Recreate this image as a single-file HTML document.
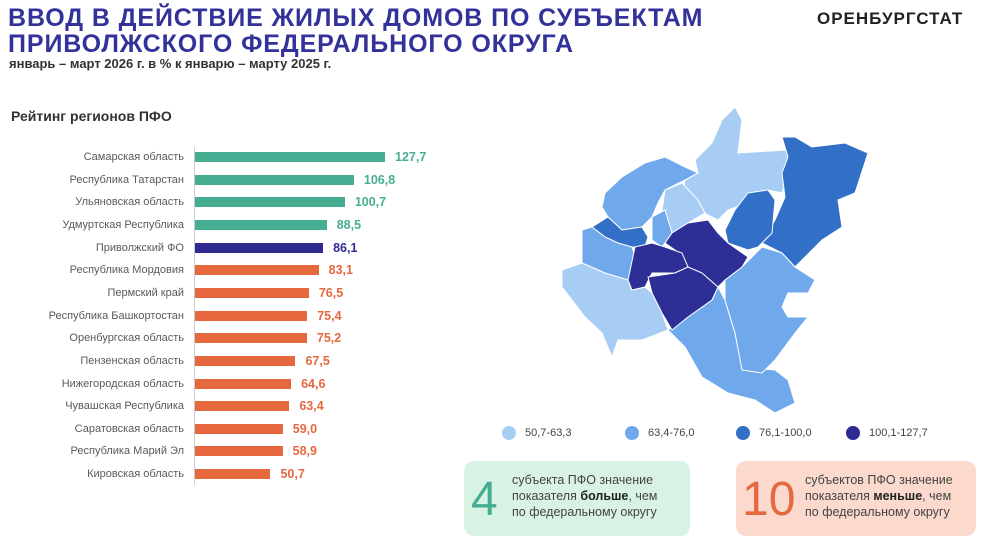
<!DOCTYPE html>
<html><head><meta charset="utf-8"><style>
*{margin:0;padding:0;box-sizing:border-box}
body{width:1000px;height:538px;background:#fff;position:relative;overflow:hidden;font-family:"Liberation Sans",sans-serif}
.a{position:absolute;white-space:nowrap}
.t{left:8px;font-size:25px;font-weight:bold;color:#33329a;letter-spacing:0.9px;line-height:25px}
.lab{position:absolute;right:816px;font-size:11px;color:#5a5a5a;line-height:12px}
.bar{position:absolute;left:195px;height:10px}
.val{position:absolute;font-size:12.5px;font-weight:bold;line-height:12px}
.box{position:absolute;border-radius:10px}
.big{position:absolute;font-size:48px;line-height:48px}
.bt{position:absolute;font-size:12.5px;color:#444;line-height:16px}
.lg{position:absolute;font-size:11px;color:#444}
.dot{position:absolute;width:14px;height:14px;border-radius:50%}
</style></head><body>
<div class="a t" style="top:6px">ВВОД В ДЕЙСТВИЕ ЖИЛЫХ ДОМОВ ПО СУБЪЕКТАМ</div>
<div class="a t" style="top:32px">ПРИВОЛЖСКОГО ФЕДЕРАЛЬНОГО ОКРУГА</div>
<div class="a" style="left:9px;top:56px;font-size:13px;font-weight:bold;color:#333">январь – март 2026 г. в % к январю – марту 2025 г.</div>
<div class="a" style="left:817px;top:9px;font-size:17px;font-weight:bold;color:#222;letter-spacing:1px">ОРЕНБУРГСТАТ</div>
<div class="a" style="left:11px;top:108px;font-size:14px;font-weight:bold;color:#333">Рейтинг регионов ПФО</div>
<div style="position:absolute;left:194px;top:147px;width:1px;height:338px;background:#ccc"></div>
<div id="bars"></div>
<script>
var d=[["Самарская область",127.7,"#45ae92"],["Республика Татарстан",106.8,"#45ae92"],["Ульяновская область",100.7,"#45ae92"],["Удмуртская Республика",88.5,"#45ae92"],["Приволжский ФО",86.1,"#2e2a8f"],["Республика Мордовия",83.1,"#e5683f"],["Пермский край",76.5,"#e5683f"],["Республика Башкортостан",75.4,"#e5683f"],["Оренбургская область",75.2,"#e5683f"],["Пензенская область",67.5,"#e5683f"],["Нижегородская область",64.6,"#e5683f"],["Чувашская Республика",63.4,"#e5683f"],["Саратовская область",59.0,"#e5683f"],["Республика Марий Эл",58.9,"#e5683f"],["Кировская область",50.7,"#e5683f"]];
var h="";d.forEach(function(r,i){var y=157+i*22.65;var w=r[1]*1.488;
h+='<div class="lab" style="top:'+(y-6)+'px">'+r[0]+'</div>';
h+='<div class="bar" style="top:'+(y-5)+'px;width:'+w+'px;background:'+r[2]+'"></div>';
h+='<div class="val" style="top:'+(y-6)+'px;left:'+(195+w+10)+'px;color:'+r[2]+'">'+r[1].toFixed(1).replace(".",",")+'</div>';});
document.getElementById("bars").innerHTML=h;
</script>
<svg style="position:absolute;left:0;top:0" width="1000" height="538" stroke="#fff" stroke-width="1">
<polygon fill="#a8cdf5" points="722,120 735,107 742,120 738,153 788,150 792,163 782,193 768,190 755,200 728,210 718,220 698,210 682,200 685,180 698,173 695,160 712,143"/>
<polygon fill="#3170c6" points="782,137 795,137 812,147 845,143 868,153 855,193 838,200 842,227 822,240 795,267 782,253 762,243 775,220 785,197 782,173 788,157"/>
<polygon fill="#3170c6" points="748,193 768,190 775,200 772,233 758,247 748,250 728,243 725,230 735,210"/>
<polygon fill="#6fa9ec" points="605,193 622,177 645,163 665,157 685,167 698,173 685,180 665,190 658,203 652,217 642,227 622,230 608,217 602,207"/>
<polygon fill="#3170c6" points="592,227 608,217 622,230 642,227 648,237 645,247 632,247 618,243 605,237"/>
<polygon fill="#6fa9ec" points="582,230 592,227 605,237 618,243 632,247 635,257 628,280 605,273 582,263"/>
<polygon fill="#a8cdf5" points="562,270 582,263 605,273 628,280 632,290 645,287 652,293 662,313 668,330 642,340 618,340 612,357 602,333 585,317 562,287"/>
<polygon fill="#a8cdf5" points="665,190 682,183 698,200 705,213 688,223 672,233 662,210"/>
<polygon fill="#6fa9ec" points="652,217 665,210 672,233 662,247 652,240"/>
<polygon fill="#6fa9ec" points="668,330 688,317 712,300 718,287 725,300 735,333 742,367 775,370 788,380 795,403 775,413 755,400 728,393 702,377 685,347"/>
<polygon fill="#6fa9ec" points="725,280 742,267 762,247 782,253 795,267 815,280 808,293 788,293 782,307 788,317 808,317 795,333 775,360 762,373 742,370 735,333 725,300"/>
<polygon fill="#2e2f96" points="672,233 688,223 708,220 718,233 728,243 748,257 742,267 725,280 718,287 702,273 688,267 675,250 665,243"/>
<polygon fill="#2e2f96" points="635,247 652,243 665,247 682,253 688,267 675,273 652,273 645,287 632,290 628,280"/>
<polygon fill="#2e2f96" points="648,277 675,273 688,267 702,273 718,287 712,300 688,317 672,330 662,313 652,293"/>
</svg>
<div class="dot" style="left:502px;top:426px;background:#a8cdf5"></div><div class="lg" style="left:525px;top:427px">50,7-63,3</div>
<div class="dot" style="left:625px;top:426px;background:#6fa9ec"></div><div class="lg" style="left:648px;top:427px">63,4-76,0</div>
<div class="dot" style="left:736px;top:426px;background:#3170c6"></div><div class="lg" style="left:759px;top:427px">76,1-100,0</div>
<div class="dot" style="left:846px;top:426px;background:#2e2a8f"></div><div class="lg" style="left:869px;top:427px">100,1-127,7</div>
<div class="box" style="left:464px;top:461px;width:226px;height:75px;background:#d8f3e4"></div>
<div class="big" style="left:471px;top:476px;color:#45ae92">4</div>
<div class="bt" style="left:512px;top:472px">субъекта ПФО значение<br>показателя <b style="color:#222">больше</b>, чем<br>по федеральному округу</div>
<div class="box" style="left:736px;top:461px;width:240px;height:75px;background:#fbd9cd"></div>
<div class="big" style="left:742px;top:476px;color:#e5683f">10</div>
<div class="bt" style="left:805px;top:472px">субъектов ПФО значение<br>показателя <b style="color:#222">меньше</b>, чем<br>по федеральному округу</div>
</body></html>
